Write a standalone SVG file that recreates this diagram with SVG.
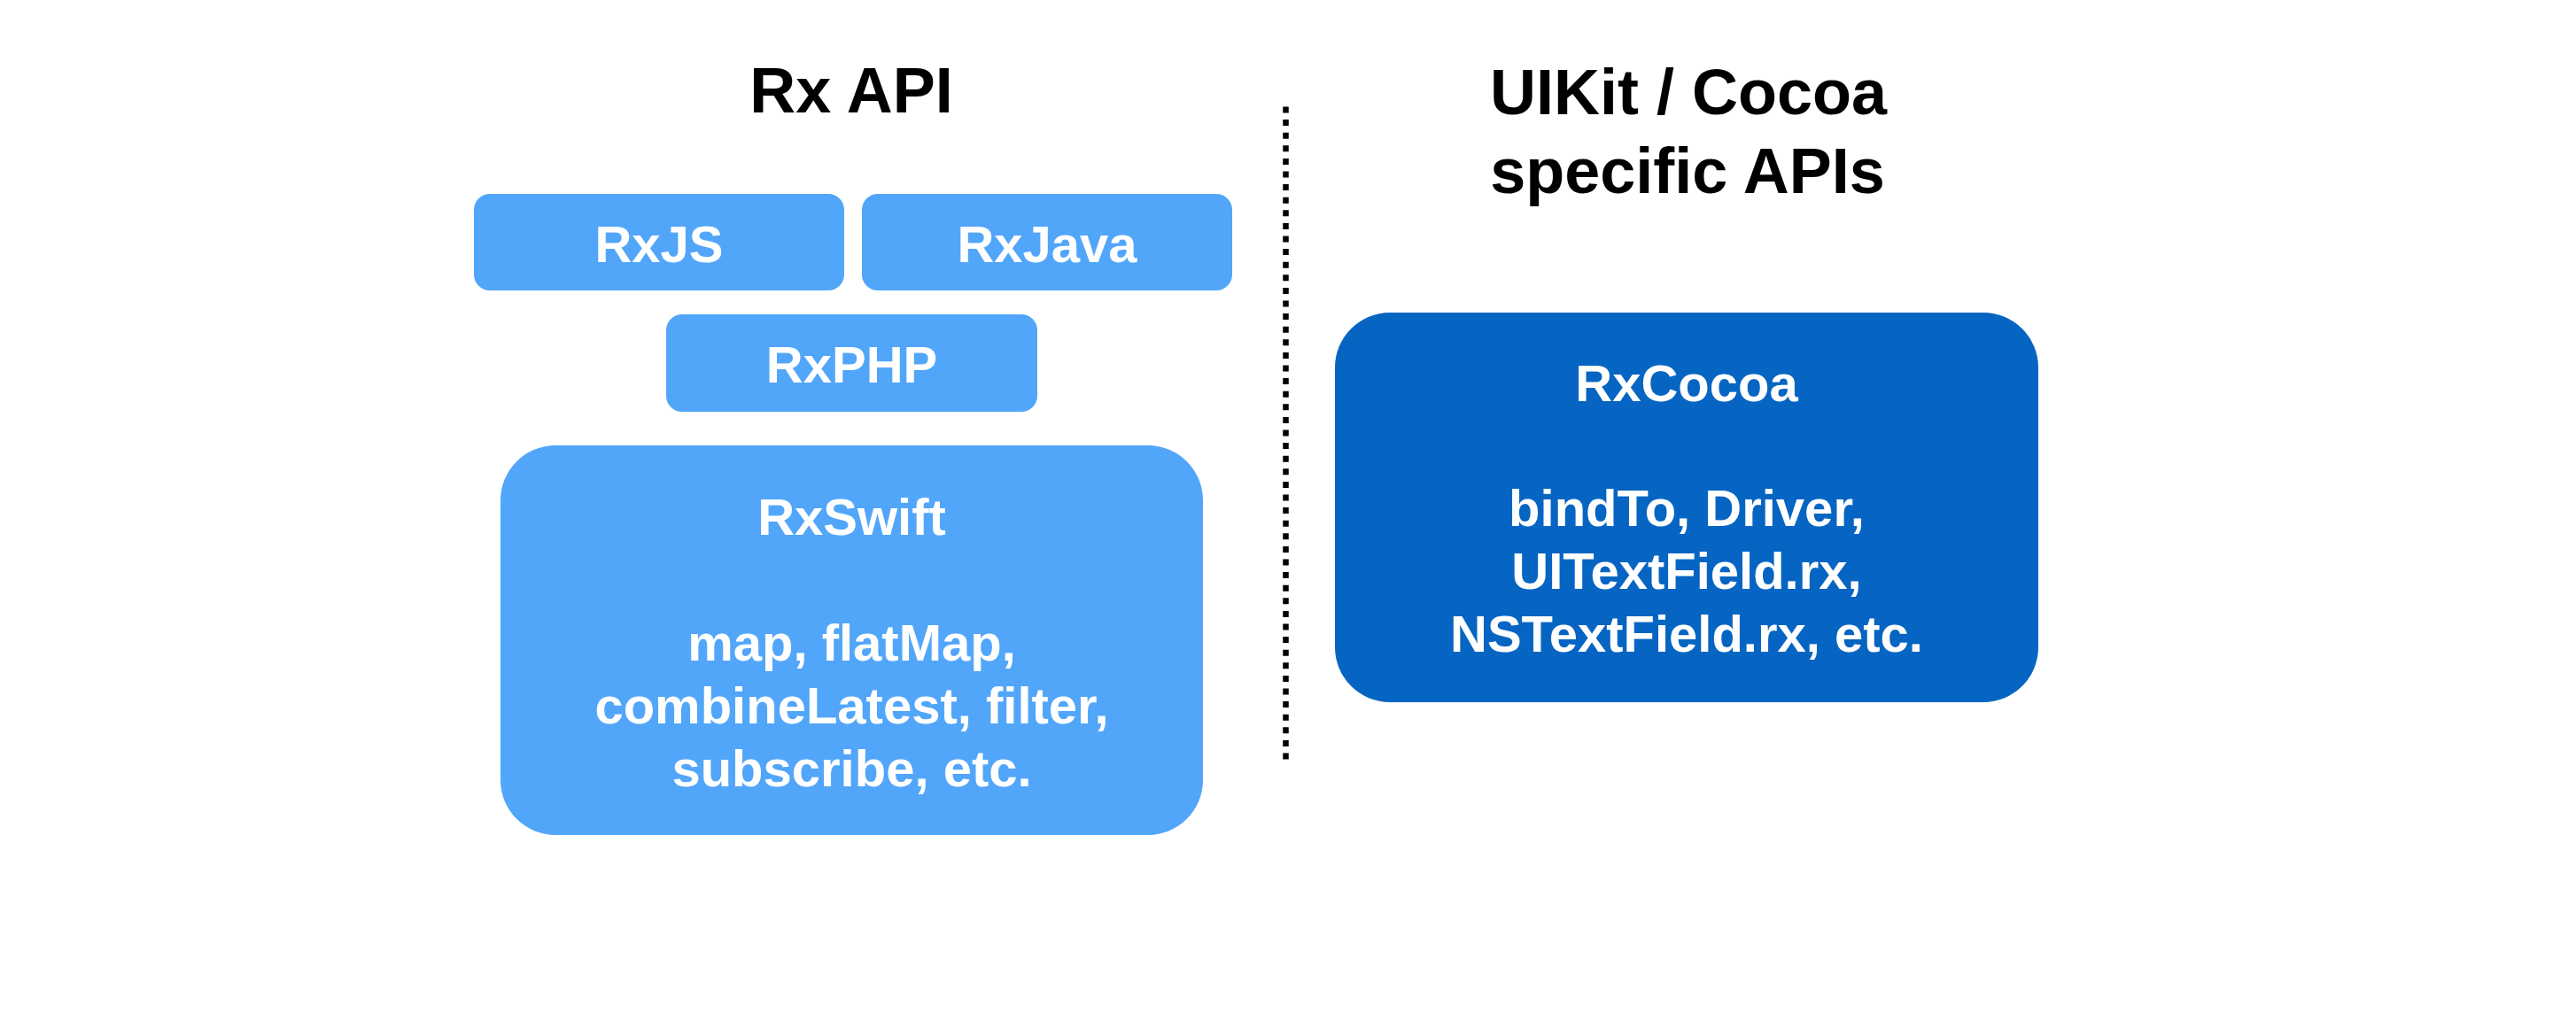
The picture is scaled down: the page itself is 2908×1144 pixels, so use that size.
<svg xmlns="http://www.w3.org/2000/svg" width="2908" height="1144" viewBox="0 0 2908 1144">
  <style>
    .title { font-family: "Liberation Sans", Arial, Helvetica, sans-serif; font-weight: bold; font-size: 72px; fill: #000000; text-anchor: middle; }
    .lbl { font-family: "Liberation Sans", Arial, Helvetica, sans-serif; font-weight: bold; font-size: 58px; fill: #ffffff; text-anchor: middle; }
    .light { fill: #52A6F9; }
    .dark { fill: #0665C2; }
  </style>
  <rect x="0" y="0" width="2908" height="1144" fill="#ffffff"/>

  <g id="title-rx-api">
    <text class="title" x="961" y="127">Rx API</text>
  </g>
  <g id="title-uikit">
    <text class="title" x="1906" y="129">UIKit / Cocoa</text>
    <text class="title" x="1905" y="218">specific APIs</text>
  </g>

  <g id="connectors">
    <line x1="1451.5" y1="120.5" x2="1451.5" y2="858" stroke="#000000" stroke-width="6.5" stroke-dasharray="7 7.6"/>
  </g>

  <g id="rxjs">
    <rect class="light" x="535" y="219" width="418" height="109" rx="18" ry="18"/>
    <text class="lbl" x="744" y="296">RxJS</text>
  </g>
  <g id="rxjava">
    <rect class="light" x="973" y="219" width="418" height="109" rx="18" ry="18"/>
    <text class="lbl" x="1182" y="296">RxJava</text>
  </g>
  <g id="rxphp">
    <rect class="light" x="752" y="355" width="419" height="110" rx="18" ry="18"/>
    <text class="lbl" x="961.5" y="432">RxPHP</text>
  </g>
  <g id="rxswift">
    <rect class="light" x="565" y="503" width="793" height="440" rx="62" ry="62"/>
    <text class="lbl" x="961.5" y="604">RxSwift</text>
    <text class="lbl" x="961.5" y="746">map, flatMap,</text>
    <text class="lbl" x="961.5" y="817">combineLatest, filter,</text>
    <text class="lbl" x="961.5" y="888">subscribe, etc.</text>
  </g>
  <g id="rxcocoa">
    <rect class="dark" x="1507" y="353" width="794" height="440" rx="62" ry="62"/>
    <text class="lbl" x="1904" y="453">RxCocoa</text>
    <text class="lbl" x="1904" y="594">bindTo, Driver,</text>
    <text class="lbl" x="1904" y="665">UITextField.rx,</text>
    <text class="lbl" x="1904" y="736">NSTextField.rx, etc.</text>
  </g>
</svg>
